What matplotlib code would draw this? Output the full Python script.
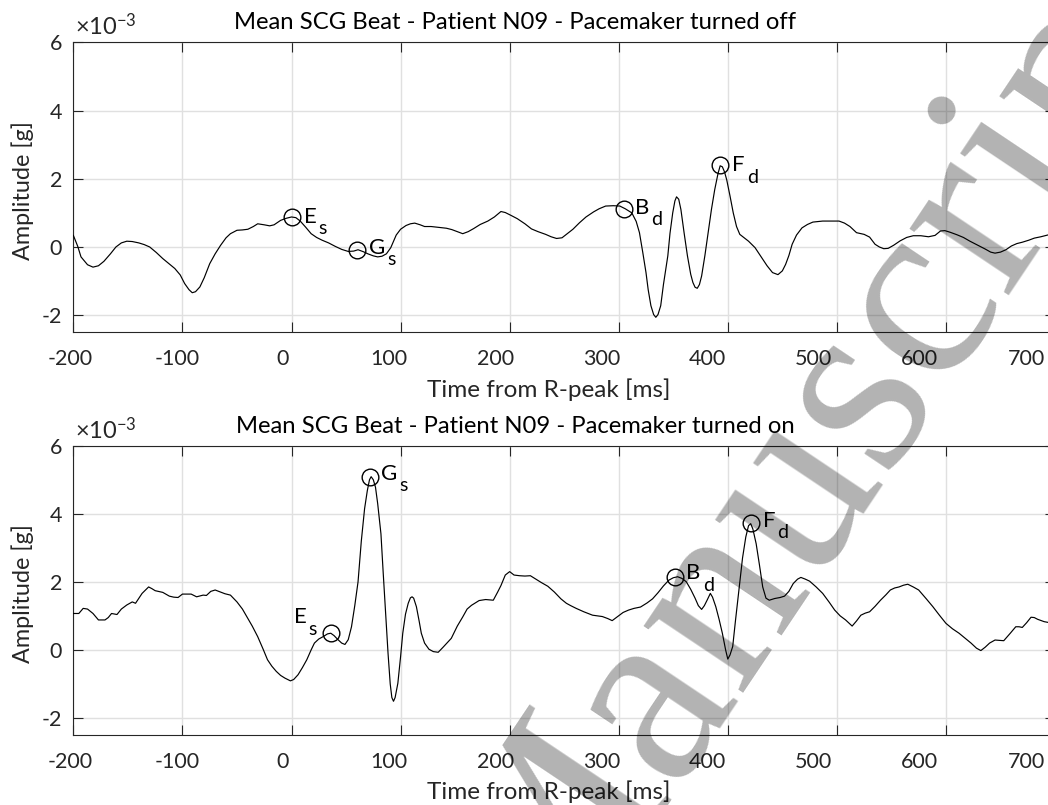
import matplotlib
matplotlib.use('Agg')
import matplotlib.pyplot as plt
from matplotlib.transforms import ScaledTranslation

plt.rcParams['font.family'] = ['Lato', 'DejaVu Sans']
plt.rcParams['axes.unicode_minus'] = False
plt.rcParams['mathtext.fontset'] = 'custom'
plt.rcParams['mathtext.rm'] = 'Lato'
plt.rcParams['mathtext.it'] = 'Lato'

# ---------------- data (values in units of 1e-3 g) ----------------
t_off = [-200, -196, -193, -187, -182, -177, -172, -166, -161, -156, -151, -146, -140, -135, -130,
         -124, -118, -112, -107, -102, -98, -94, -91, -88, -84, -80, -75, -70, -65, -60, -56, -50,
         -45, -40, -35, -31, -25, -20, -16, -10, -5, 0, 4, 8, 13, 18, 23, 28, 34, 40, 46, 52, 57,
         61, 66, 70, 75, 79, 83, 87, 91, 96, 100, 105, 109, 113, 118, 122, 128, 136, 142, 147, 152,
         157, 162, 167, 173, 180, 186, 192, 196, 201, 207, 214, 220, 226, 233, 238, 243, 248, 252,
         258, 264, 270, 277, 282, 288, 295, 301, 306, 312, 316, 319, 322, 325, 327, 329.5, 332, 334,
         336, 338.5, 341, 345, 347, 349.5, 351.5, 353, 355, 357, 360, 363, 366, 368, 370, 372, 374,
         376, 379, 382, 385, 388, 391, 393, 395, 397, 399, 402, 405, 408, 411, 415, 419, 425, 431,
         436, 441, 446, 450, 453, 456, 459, 463, 468, 473, 478, 487, 495, 502, 507, 512, 518, 525,
         530, 535, 539, 543, 547, 552, 558, 564, 570, 577, 584, 590, 595, 599, 604, 610, 616, 622,
         630, 636, 641, 645, 650, 655, 660, 665, 670, 676, 681, 687, 693, 700]
v_off = [0.34, 0.02, -0.29, -0.52, -0.59, -0.55, -0.42, -0.2, 0.0, 0.12, 0.17, 0.16, 0.12, 0.07, 0.0,
         -0.16, -0.34, -0.5, -0.63, -0.82, -1.07, -1.25, -1.34, -1.31, -1.17, -0.9, -0.49, -0.2, 0.05,
         0.27, 0.39, 0.49, 0.5, 0.52, 0.6, 0.68, 0.65, 0.62, 0.65, 0.78, 0.84, 0.88, 0.86, 0.76, 0.58,
         0.39, 0.28, 0.2, 0.12, 0.02, -0.07, -0.13, -0.12, -0.08, -0.14, -0.2, -0.26, -0.29, -0.27,
         -0.2, -0.02, 0.35, 0.52, 0.63, 0.68, 0.70, 0.65, 0.6, 0.6, 0.57, 0.55, 0.51, 0.45, 0.39, 0.45,
         0.54, 0.66, 0.76, 0.88, 1.04, 1.01, 0.93, 0.83, 0.68, 0.53, 0.45, 0.37, 0.3, 0.25, 0.27, 0.37,
         0.52, 0.71, 0.88, 1.03, 1.12, 1.2, 1.21, 1.2, 1.12, 1.0, 0.75, 0.42, -0.15, -0.75, -1.25,
         -1.72, -1.98, -2.06, -1.98, -1.72, -1.1, -0.26, 0.4, 1.0, 1.35, 1.47, 1.4, 1.1, 0.4, -0.26,
         -0.8, -1.04, -1.18, -1.21, -1.1, -0.85, -0.25, 0.42, 1.1, 1.68, 2.15, 2.38, 2.35, 2.2, 1.97,
         1.5, 1.0, 0.6, 0.37, 0.27, 0.17, -0.02, -0.31, -0.55, -0.75, -0.81, -0.7, -0.51, -0.25, 0.08,
         0.35, 0.56, 0.66, 0.73, 0.76, 0.76, 0.76, 0.7, 0.6, 0.42, 0.37, 0.29, 0.08, 0.0, -0.05, -0.04,
         0.05, 0.18, 0.28, 0.33, 0.33, 0.3, 0.34, 0.47, 0.48, 0.43, 0.36, 0.28, 0.17, 0.04, -0.06,
         -0.15, -0.18, -0.15, -0.08, 0.03, 0.1, 0.14, 0.2, 0.26, 0.3, 0.35, 0.4]

t_on = [-200, -195, -191, -187, -182, -177, -171, -168, -165, -160, -156, -151, -146, -143, -137,
        -131, -128, -125, -118, -112, -108, -104, -100, -92, -87, -81, -78, -74, -70, -66, -61, -56,
        -50, -45, -41, -36, -31, -26, -22, -18, -14, -10, -6, -1, 2, 6, 10, 14, 18, 21, 25, 29, 33,
        36, 39, 42, 46, 49, 52, 55, 58, 61, 64, 67, 69.5, 71.5, 73, 75, 77, 79, 82, 84, 86.5, 88.5,
        90.5, 92, 93.5, 95, 97.5, 100, 102, 104.5, 107, 109, 110.5, 112, 114.5, 117, 119, 122, 126,
        130, 134.5, 139, 143, 146.5, 152, 157, 161, 165, 172, 178, 185, 189, 192, 196, 200, 204, 209,
        214, 219, 224, 229, 235, 241, 247, 252, 256, 261, 268, 276, 285, 290, 294, 299, 304, 309,
        314, 320, 326, 331, 336, 341, 346, 350, 354, 358, 362, 366, 370, 373, 376, 378.5, 381, 384,
        386, 389, 392, 395, 398, 400, 402, 404.5, 407, 410.5, 413.5, 416.5, 419, 421, 423, 426, 429,
        432, 435, 438, 443, 448, 452, 456, 460, 464, 467, 471, 475, 481, 487, 493, 498, 503, 508,
        514, 518, 522, 526, 530, 535, 540, 545, 549, 553, 557, 561, 565, 570, 575, 582, 588, 594,
        600, 606, 612, 618, 623, 628, 632, 636, 640, 645, 649, 653, 656, 659, 664, 667, 670, 674,
        678, 681, 684, 690, 695, 700]
v_on = [1.07, 1.07, 1.22, 1.2, 1.07, 0.88, 0.88, 0.95, 1.07, 1.04, 1.2, 1.32, 1.41, 1.37, 1.66,
        1.85, 1.8, 1.74, 1.69, 1.58, 1.55, 1.54, 1.64, 1.64, 1.56, 1.61, 1.6, 1.72, 1.76, 1.71, 1.65,
        1.61, 1.41, 1.2, 0.98, 0.7, 0.39, 0.02, -0.29, -0.48, -0.63, -0.75, -0.83, -0.91, -0.87,
        -0.73, -0.52, -0.29, 0.0, 0.2, 0.32, 0.39, 0.47, 0.49, 0.42, 0.32, 0.2, 0.16, 0.3, 0.68, 1.3,
        2.0, 3.2, 4.15, 4.68, 5.0, 5.09, 5.0, 4.78, 4.3, 3.41, 2.3, 0.98, -0.1, -1.0, -1.4, -1.51,
        -1.4, -0.98, -0.2, 0.49, 1.05, 1.37, 1.53, 1.56, 1.52, 1.27, 0.85, 0.49, 0.2, 0.02, -0.05,
        -0.07, 0.08, 0.22, 0.34, 0.7, 0.97, 1.2, 1.31, 1.45, 1.48, 1.46, 1.7, 1.89, 2.2, 2.3, 2.2,
        2.18, 2.17, 2.18, 2.08, 1.98, 1.87, 1.7, 1.5, 1.37, 1.3, 1.22, 1.12, 1.02, 0.98, 0.92, 0.86,
        0.98, 1.1, 1.17, 1.22, 1.26, 1.38, 1.5, 1.68, 1.88, 2.05, 2.12, 2.15, 2.1, 2.0, 1.78, 1.52,
        1.3, 1.19, 1.3, 1.46, 1.66, 1.55, 1.27, 0.9, 0.49, 0.0, -0.27, -0.15, 0.1, 0.85, 1.85, 2.7,
        3.32, 3.65, 3.71, 3.55, 3.12, 2.5, 1.85, 1.52, 1.46, 1.51, 1.54, 1.58, 1.72, 1.95, 2.08,
        2.13, 2.08, 2.02, 1.85, 1.66, 1.4, 1.17, 1.0, 0.88, 0.70, 0.85, 1.02, 1.08, 1.12, 1.28, 1.46,
        1.62, 1.76, 1.82, 1.85, 1.9, 1.93, 1.85, 1.76, 1.5, 1.27, 1.02, 0.78, 0.62, 0.49, 0.33, 0.2,
        0.05, -0.02, 0.08, 0.2, 0.29, 0.28, 0.27, 0.38, 0.49, 0.68, 0.68, 0.66, 0.8, 0.96, 0.95, 0.9,
        0.83, 0.8, 0.78]

peak_letters = ['E', 'G', 'B', 'F']
peak_subs = ['s', 's', 'd', 'd']
off_peak_t = [0, 60, 305, 393]
off_peak_v = [0.88, -0.08, 1.12, 2.40]
on_peak_t = [36, 72, 352, 421]
on_peak_v = [0.49, 5.09, 2.13, 3.73]

x_ticks = [-200, -100, 0, 100, 200, 300, 400, 500, 600, 700]
y_ticks = [-2, 0, 2, 4, 6]
titles = ['Mean SCG Beat - Patient N09 - Pacemaker turned off',
          'Mean SCG Beat - Patient N09 - Pacemaker turned on']
x_label = 'Time from R-peak [ms]'
y_label = 'Amplitude [g]'
watermark = 'Manuscript'

# ---------------- figure ----------------
W, H = 1048, 805
fig = plt.figure(figsize=(W / 100, H / 100), dpi=100)
dark = '#262626'

ax_rects = [[0.0700, 0.5872, 0.9367, 0.3603],
            [0.0700, 0.0870, 0.9367, 0.3593]]
series = [(t_off, v_off, off_peak_t, off_peak_v), (t_on, v_on, on_peak_t, on_peak_v)]

# label offsets (pixels, main letter) per panel/peak
label_offsets = [
    [(12, 0), (12, 2), (11, 1), (12, 0)],
    [(-37, 16), (11, 3), (11, 4), (12, 2)],
]

for i, (rect, (tt, vv, pt, pv)) in enumerate(zip(ax_rects, series)):
    ax = fig.add_axes(rect)
    ax.plot(tt, vv, color='black', lw=0.85, zorder=3)
    ax.plot(pt, pv, 'o', mfc='none', mec='black', ms=12, mew=1.0, zorder=4)
    ax.set_xlim(-200, 700)
    ax.set_ylim(-2.5, 6)
    ax.set_yticks(y_ticks)
    ax.set_yticklabels([str(v) for v in y_ticks])
    ax.set_xticks(x_ticks)
    ax.set_xticklabels([str(v) for v in x_ticks])
    ax.grid(True, color='#e0e0e0', lw=1.0, zorder=0)
    ax.set_axisbelow(True)
    for s in ax.spines.values():
        s.set_color(dark)
        s.set_linewidth(0.8)
    ax.tick_params(direction='in', top=True, right=True, length=7, width=0.8,
                   color=dark, labelcolor=dark, labelsize=15.5)
    ax.tick_params(axis='x', pad=12)
    ax.tick_params(axis='y', pad=8)

    # MATLAB-like progressive label placement
    for tk, tv in zip(ax.xaxis.get_major_ticks(), x_ticks):
        dx = -(2.8 + 0.0291 * (tv - x_ticks[0]))
        tk.label1.set_transform(tk.label1.get_transform() +
                                ScaledTranslation(dx / 100, 0, fig.dpi_scale_trans))

    ax.set_title(titles[i], fontsize=17.2, color='black', x=0.4499,
                 y=1.0448 if i == 0 else 1.0428, va='baseline', pad=0)
    ax.set_xlabel(x_label, fontsize=17.5, color=dark)
    ax.xaxis.label.set_va('baseline')
    ax.xaxis.set_label_coords(0.4838, -0.222)
    ax.set_ylabel(y_label, fontsize=16.8, color=dark)
    ax.yaxis.set_label_coords(-0.0402, 0.49)

    ax.annotate(r'$\times$10$^{-3}$', xy=(0, 1), xycoords='axes fraction', xytext=(2, 7),
                textcoords='offset pixels', ha='left', va='baseline', fontsize=17, color=dark)

    for j in range(len(pt)):
        ox, oy = label_offsets[i][j]
        main = ax.annotate(peak_letters[j], xy=(pt[j], pv[j]), xytext=(ox, oy),
                           textcoords='offset pixels', ha='left', va='center',
                           fontsize=16, color='black', zorder=5)
        ax.annotate(peak_subs[j], xy=(1, 0.5), xycoords=main, xytext=(2, -12),
                    textcoords='offset pixels', ha='left', va='center',
                    fontsize=14, color='black', zorder=5)

fig.text(0.8347, 0.3963, watermark, fontsize=188, family='Liberation Serif', rotation=56.2,
         rotation_mode='anchor', ha='center', va='baseline', color='black', alpha=0.3,
         zorder=10)

fig.savefig('out.png', dpi=100)
